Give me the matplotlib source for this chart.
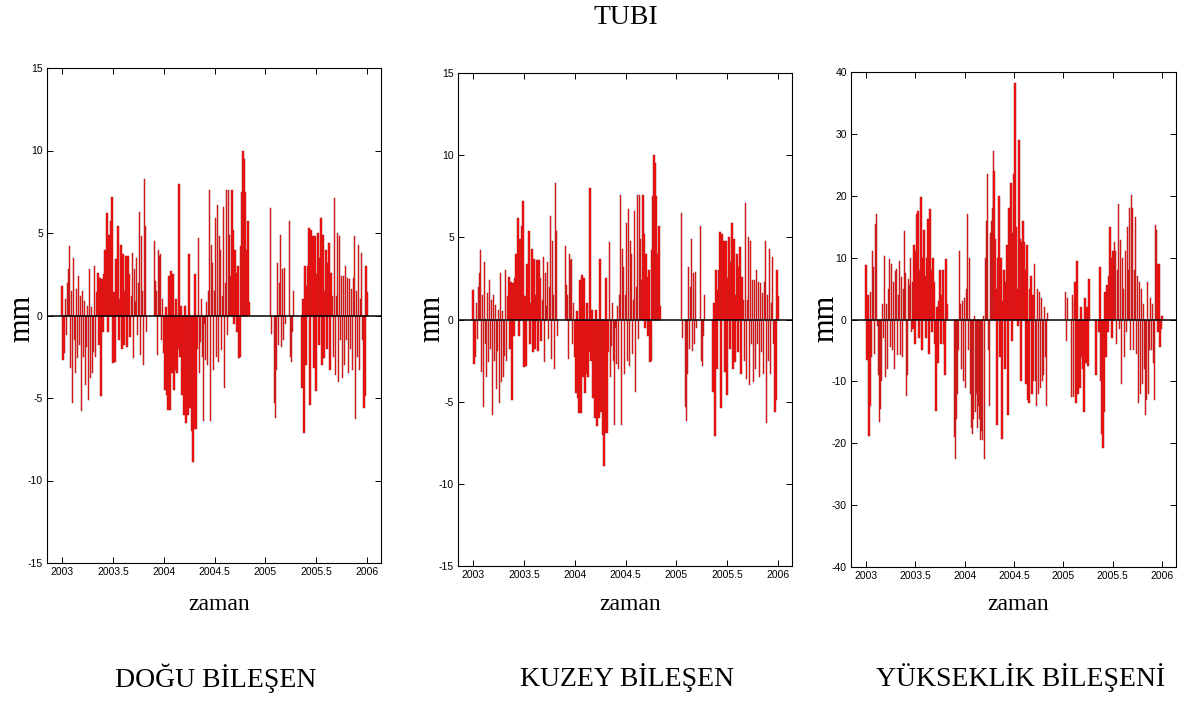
import matplotlib
matplotlib.use('Agg')
import matplotlib.pyplot as plt
import numpy as np

plt.rc('font', family='Liberation Serif')
plt.rc('axes', unicode_minus=False)

W, H = 1189, 702
step = 0.01  # sampling of the values (years)

# DOGU component (mm), one block per continuous stretch, block start epochs below
dogu_starts = [2003.00, 2003.91, 2005.05, 2005.09, 2005.24, 2005.36]
dogu_2003 = [1.8, -2.7, -2.3, 1.0, -1.2, 2.0, 2.8, 4.2, -3.2, 1.5,
             -5.3, 3.5, -1.5, -3.5, 1.6, -2.6, 2.4, -1.8, 1.2, -5.8,
             1.5, -2.5, 0.9, -4.2, -1.9, 0.6, -5.1, 2.8, -3.8, 0.5,
             -3.5, -2.2, 3.0, -2.5, 1.4, 2.6, -1.8, 2.3, -4.9, 2.2,
             -1.0, 2.5, 4.0, 1.8, 6.2, -1.0, 4.9, 2.6, 5.7, 7.2,
             -2.9, 1.4, -2.8, 3.4, 1.2, 5.4, -1.5, 1.0, 4.3, -2.0,
             3.7, -1.8, 1.5, 3.6, -1.9, 3.6, 2.5, -1.3, 1.2, 3.8,
             -2.6, 2.8, 0.8, 3.5, -1.2, 2.0, 6.3, -2.4, 4.8, 1.5,
             -3.0, 8.3, 5.4, -1.0]
dogu_2004 = [4.5, 2.1, 1.5, -2.4, 4.0, 3.6, 3.7, -1.5, 1.0, -2.3,
             -4.5, 0.5, -4.8, -5.7, 2.4, -5.7, 2.7, -3.5, 2.5, -4.5,
             -3.3, 1.0, -3.5, -2.0, 8.0, -2.5, 0.6, -4.8, -3.3, -6.0,
             0.6, -6.5, -3.0, -6.0, 3.7, -5.6, -4.0, -7.0, -8.9, -6.9,
             2.5, -6.9, -2.0, 4.7, -3.5, -1.6, 1.0, -2.5, -6.4, -0.5,
             -2.7, 0.8, -3.0, 1.5, 7.6, -6.4, 4.3, 3.2, -3.3, 1.5,
             5.9, -2.5, 6.7, -2.8, 4.8, 4.0, -2.1, 1.2, 6.6, -4.4,
             2.0, 7.6, -1.2, 7.6, 4.9, 2.4, 7.6, 5.2, -0.5, 4.0,
             2.6, -1.0, 3.0, -2.6, -2.5, 4.2, 7.5, 10.0, 9.5, 7.5,
             4.0, 2.0, 5.7, 0.8]
dogu_2005a = [6.5, -1.1]
dogu_2005b = [-5.3, -6.2, -3.3, 3.2, -1.8, 2.0, 4.9, -1.9, 2.8, -1.5, 2.9, -0.5]
dogu_2005c = [5.7, -2.5, -2.8, -1.0, 1.5]
dogu_2005d = [-4.4, 1.0, -7.1, 3.0, -3.0, 1.8, 3.0, 5.3, -5.4, 5.2,
              2.0, 4.8, -3.2, 4.8, -4.6, 2.5, 5.0, -1.8, 3.5, 5.9,
              -3.0, 4.9, -2.6, 1.5, 4.0, -2.0, 3.2, 4.4, -3.3, 2.6,
              1.2, -2.5, 7.1, -3.6, 1.2, 5.0, -4.0, 4.8, -1.5, 2.4,
              -3.8, 2.4, -3.0, 3.0, -1.5, 2.3, -3.5, 2.2, -2.0, 1.6,
              -3.3, 2.3, 4.8, -6.3, 1.5, -2.5, 4.3, -3.3, 1.0, 3.8,
              -1.5, -5.6, -4.9, 3.0, 1.4]
dogu_blocks = [dogu_2003, dogu_2004, dogu_2005a, dogu_2005b, dogu_2005c, dogu_2005d]

# KUZEY panel shows the very same series as DOGU in the source figure
kuzey_starts = list(dogu_starts)
kuzey_blocks = [list(b) for b in dogu_blocks]

# YUKSEKLIK component (mm)
yuk_starts = [2003.00, 2003.90, 2005.02, 2005.08, 2005.33, 2005.36]
yuk_2003 = [8.8, -6.5, 4.0, -18.8, -14.0, 4.5, -6.0, 11.0, 8.5, -5.5,
            15.5, 17.0, -1.0, -9.0, -16.5, -14.5, -10.0, 2.5, -3.0, 10.2,
            -9.3, 2.5, -8.0, 5.0, 9.8, -4.5, 9.0, -5.0, 6.0, -8.0,
            7.8, 8.2, -5.7, 4.0, 9.5, -5.8, 6.8, -6.0, 5.0, 14.3,
            7.5, -12.3, -9.0, 6.5, 5.5, 10.0, -2.0, 6.0, -1.5, 12.0,
            -4.0, 11.0, 17.0, 17.5, -3.0, 8.0, 19.8, -5.0, 10.0, 14.5,
            7.0, -3.0, 10.0, 16.2, -5.5, 17.8, 8.0, -2.0, 10.0, 6.0,
            -4.0, -14.8, 2.0, -7.0, 3.0, 8.0, -4.0, 4.0, 8.0, -4.0,
            -9.0, 9.8, 2.5]
yuk_2004 = [-19.0, -22.5, -16.0, -12.0, -5.0, 11.0, 2.5, -8.0, 3.0, -10.0,
            3.5, -11.0, 5.0, 17.0, -5.0, 10.0, -12.0, -17.5, -18.5, -16.0,
            0.5, -15.0, -12.0, -17.5, -14.0, -16.0, -19.5, -18.0, -19.5, 0.5,
            -22.5, 10.0, 16.0, 23.5, -5.0, -14.0, 14.0, 16.0, 18.0, 27.2,
            24.0, 13.0, 5.0, -17.0, 10.0, 20.0, -6.0, 10.0, -19.3, 3.0,
            8.0, -8.0, 6.0, 12.0, -15.5, 18.0, 14.0, 22.0, -3.5, 14.0,
            23.5, 38.2, 15.0, 5.0, -1.0, 29.0, 13.0, -10.0, 12.5, 16.0,
            12.5, 8.0, -10.5, 12.0, -13.0, -13.5, 5.0, 7.0, -12.0, 4.0,
            -10.0, 9.0, -10.0, -14.0, 5.0, -12.0, 4.5, -11.0, 3.5, -10.0,
            -9.0, 2.0, -6.0, -14.0, 1.0]
yuk_2005a = [4.5, -3.5, 3.5]
yuk_2005b = [-12.5, 4.0, -12.5, 3.0, 6.0, -13.5, 9.5, -12.0, -10.0, -11.0,
             2.0, -6.0, -8.0, -15.0, 3.5, -7.0, 2.0, -7.5, 6.5]
yuk_2005c = [-9.0]
yuk_2005d = [-2.0, 8.5, -10.0, -18.5, -20.7, -15.0, 4.5, -6.0, 5.5, -2.0,
             7.0, 15.0, 10.0, -3.0, 11.0, 7.0, 12.5, 11.0, -4.0, 8.0,
             18.7, -1.5, 12.8, -10.5, 10.0, 5.0, -6.0, 11.0, -2.0, 15.0,
             8.0, 18.0, -5.0, 20.2, 18.0, -5.0, 8.0, 16.5, -5.5, 7.0,
             -13.5, 6.0, -12.0, 5.0, -10.5, 2.5, -8.0, -15.5, -13.0, 6.0,
             -12.0, -5.0, 3.5, -5.0, 2.5, -7.0, -13.0, 15.3, 14.5, 9.0,
             -2.0, 9.0, -4.5, -1.5, 0.5]
yuk_blocks = [yuk_2003, yuk_2004, yuk_2005a, yuk_2005b, yuk_2005c, yuk_2005d]

year_ticks = [2003, 2003.5, 2004, 2004.5, 2005, 2005.5, 2006]
year_labels = ['2003', '2003.5', '2004', '2004.5', '2005', '2005.5', '2006']
captions = ['DOĞU BİLEŞEN', 'KUZEY BİLEŞEN', 'YÜKSEKLİK BİLEŞENİ']


def join_blocks(starts, blocks):
    t, v = [], []
    for s, b in zip(starts, blocks):
        t.append(s + step * np.arange(len(b)))
        v.append(np.asarray(b, dtype=float))
    return np.concatenate(t), np.concatenate(v)


def px_axes(fig, left, top, right, bottom):
    return fig.add_axes([left / W, 1 - bottom / H, (right - left) / W, (bottom - top) / H])


fig = plt.figure(figsize=(W / 100, H / 100), dpi=100)

panels = [
    ((47, 68, 381, 563), dogu_starts, dogu_blocks, 15, 5, 22, 216),
    ((458, 73, 792, 566), kuzey_starts, kuzey_blocks, 15, 5, 432, 627),
    ((851, 72, 1176, 567), yuk_starts, yuk_blocks, 40, 10, 826, 1021),
]

for (box, starts, blocks, lim, ystep, mm_x, cap_x), cap in zip(panels, captions):
    ax = px_axes(fig, *box)
    t, v = join_blocks(starts, blocks)
    ax.bar(t, v, width=step * 1.5, color='#ff0a0a', edgecolor='#a82525',
           linewidth=0.35, zorder=2)
    ax.axhline(0, color='k', linewidth=1.1, zorder=3)

    ax.set_xlim(2002.85, 2006.14)
    ax.set_ylim(-lim, lim)
    ax.set_xticks(year_ticks)
    ax.set_xticklabels(year_labels)
    ax.set_yticks(np.arange(-lim, lim + 1, ystep))
    ax.tick_params(direction='in', top=True, right=True, length=4, width=0.7,
                   labelsize=7.5, pad=3)
    for lab in ax.get_xticklabels() + ax.get_yticklabels():
        lab.set_family('Liberation Sans')
    for sp in ax.spines.values():
        sp.set_linewidth(0.8)

    mid = (box[0] + box[2]) / 2
    fig.text(mm_x / W, 1 - 318 / H, 'mm', rotation=90, ha='center', va='center',
             fontsize=22)
    fig.text((mid + 5) / W, 1 - 604 / H, 'zaman', ha='center', va='center',
             fontsize=17)
    fig.text(cap_x / W, 1 - 678 / H, cap, ha='center', va='center', fontsize=20)

fig.text(626 / W, 1 - 18 / H, 'TUBI', ha='center', va='center', fontsize=20)

fig.savefig('out.png', dpi=100)
